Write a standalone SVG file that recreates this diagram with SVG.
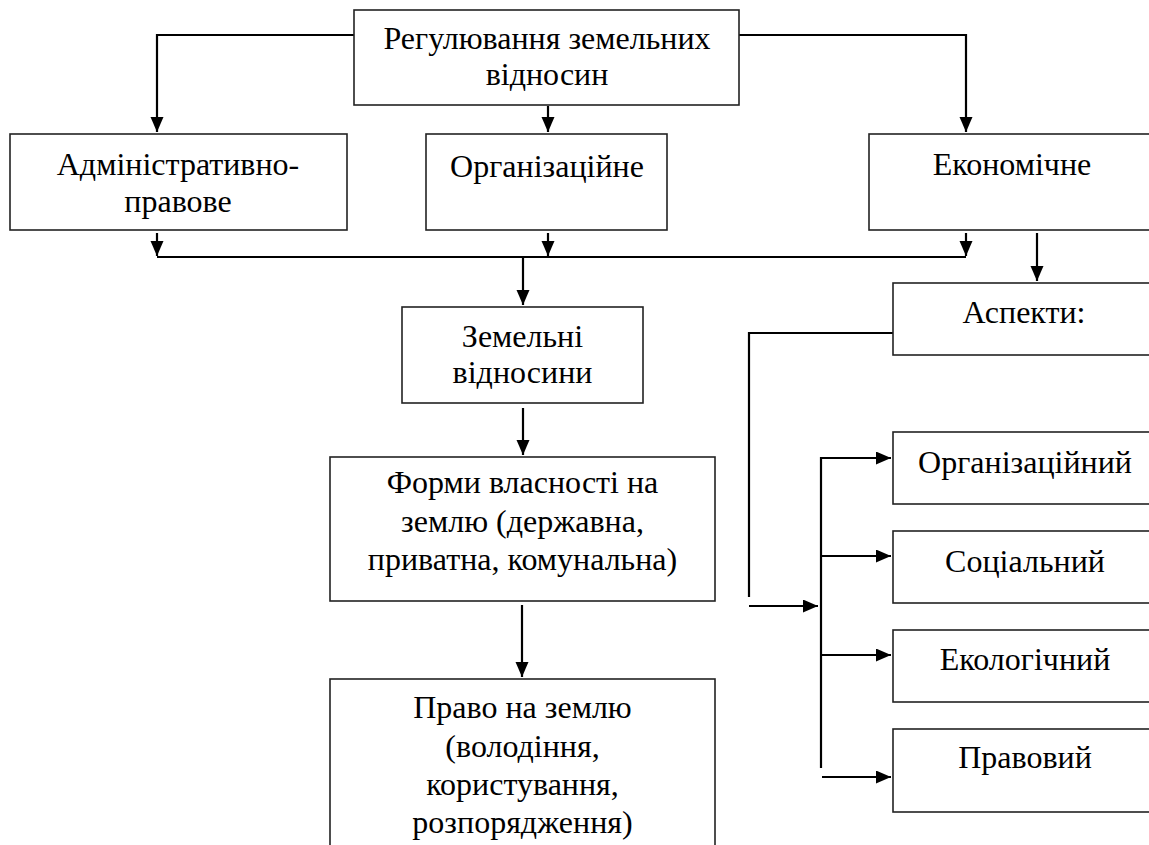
<svg xmlns="http://www.w3.org/2000/svg" width="1149" height="845" viewBox="0 0 1149 845">
<style>
.box{fill:#fff;stroke:#222;stroke-width:1.6}
.t{font-family:'Liberation Serif','Times New Roman',serif;font-size:32px;fill:#000;text-anchor:middle}
.c{fill:none;stroke:#000;stroke-width:2.2}
</style>
<defs>
<marker id="ah" markerUnits="userSpaceOnUse" markerWidth="16" markerHeight="14" refX="15" refY="6.5" orient="auto">
<path d="M0,0 L15,6.5 L0,13 z" fill="#000"/>
</marker>
</defs>
<rect width="1149" height="845" fill="#fff"/>
<g id="connectors">
<path class="c" d="M354,35 H157 V132" marker-end="url(#ah)"/>
<path class="c" d="M739,35 H966 V132" marker-end="url(#ah)"/>
<path class="c" d="M548,106 V132" marker-end="url(#ah)"/>
<path class="c" d="M157,233 V256" marker-end="url(#ah)"/>
<path class="c" d="M548,233 V256" marker-end="url(#ah)"/>
<path class="c" d="M966,233 V256" marker-end="url(#ah)"/>
<path class="c" d="M157,257 H966"/>
<path class="c" d="M523,257 V305" marker-end="url(#ah)"/>
<path class="c" d="M523,408 V455" marker-end="url(#ah)"/>
<path class="c" d="M522,605 V677" marker-end="url(#ah)"/>
<path class="c" d="M1037,233 V281" marker-end="url(#ah)"/>
<path class="c" d="M893,333 H749 V597"/>
<path class="c" d="M749,606 H818" marker-end="url(#ah)"/>
<path class="c" d="M821,457 V768"/>
<path class="c" d="M821,458 H891" marker-end="url(#ah)"/>
<path class="c" d="M821,556 H891" marker-end="url(#ah)"/>
<path class="c" d="M821,655 H891" marker-end="url(#ah)"/>
<path class="c" d="M822,777 H891" marker-end="url(#ah)"/>
</g>
<g id="regulation">
<rect class="box" x="354" y="10" width="385" height="95"/>
<text class="t" x="547" y="49">Регулювання земельних</text>
<text class="t" x="547" y="85">відносин</text>
</g>
<g id="admin">
<rect class="box" x="10" y="134" width="337" height="96"/>
<text class="t" x="178" y="175">Адміністративно-</text>
<text class="t" x="178" y="212">правове</text>
</g>
<g id="org">
<rect class="box" x="426" y="134" width="241" height="96"/>
<text class="t" x="547" y="177">Організаційне</text>
</g>
<g id="econ">
<rect class="box" x="869" y="134" width="290" height="96"/>
<text class="t" x="1012" y="175">Економічне</text>
</g>
<g id="aspects">
<rect class="box" x="893" y="283" width="266" height="72"/>
<text class="t" x="1024" y="323">Аспекти:</text>
</g>
<g id="land-relations">
<rect class="box" x="402" y="307" width="241" height="96"/>
<text class="t" x="522.5" y="347">Земельні</text>
<text class="t" x="522.5" y="383">відносини</text>
</g>
<g id="ownership">
<rect class="box" x="330" y="457" width="385" height="144"/>
<text class="t" x="522.5" y="493">Форми власності на</text>
<text class="t" x="522.5" y="532">землю (державна,</text>
<text class="t" x="522.5" y="570">приватна, комунальна)</text>
</g>
<g id="land-right">
<rect class="box" x="330" y="679" width="385" height="180"/>
<text class="t" x="522.5" y="718">Право на землю</text>
<text class="t" x="522.5" y="757">(володіння,</text>
<text class="t" x="522.5" y="795">користування,</text>
<text class="t" x="522.5" y="833">розпорядження)</text>
</g>
<g id="a-org">
<rect class="box" x="893" y="432" width="266" height="72"/>
<text class="t" x="1025" y="473">Організаційний</text>
</g>
<g id="a-soc">
<rect class="box" x="893" y="531" width="266" height="72"/>
<text class="t" x="1025" y="572">Соціальний</text>
</g>
<g id="a-eco">
<rect class="box" x="893" y="630" width="266" height="72"/>
<text class="t" x="1025" y="670">Екологічний</text>
</g>
<g id="a-law">
<rect class="box" x="893" y="729" width="266" height="83"/>
<text class="t" x="1025" y="768">Правовий</text>
</g>
</svg>
